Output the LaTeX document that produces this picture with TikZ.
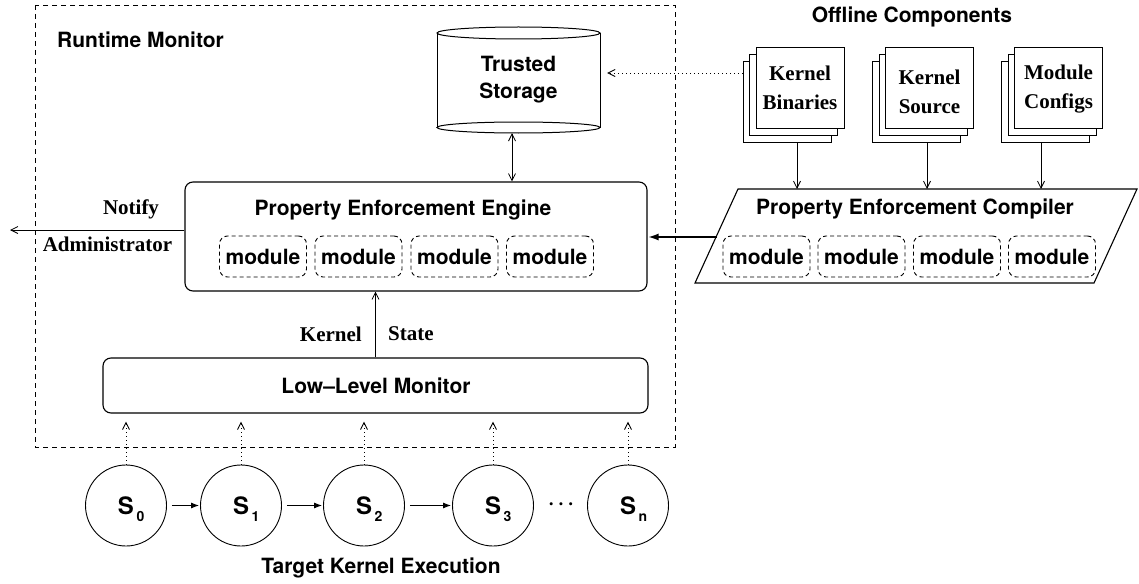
\documentclass[tikz,border=0pt]{standalone}
\usepackage{fontspec}
\setmainfont{TeX Gyre Heros}
\newfontfamily\tnr{Liberation Serif}
\usetikzlibrary{arrows.meta}

\newcommand{\stlabel}[1]{\fontsize{24}{24}\selectfont S\rlap{\hspace{2.5pt}\smash{\raisebox{-7pt}{\fontsize{14}{14}\selectfont #1}}}}

\begin{document}
\begin{tikzpicture}[x=1pt,y=-1pt,
  every node/.style={inner sep=0pt, font=\fontsize{21}{27}\selectfont\bfseries},
  serif/.style={font=\fontsize{21}{29}\selectfont\tnr\bfseries, align=center},
  box/.style={draw, line width=1.1pt, rounded corners=8pt},
  modbox/.style={draw, line width=0.9pt, dash pattern=on 4pt off 3pt,
    rounded corners=8pt, minimum width=87pt, minimum height=41pt},
  sheet/.style={draw, fill=white, line width=0.9pt, minimum width=88pt, minimum height=81pt},
  state/.style={draw, circle, line width=0.9pt, minimum size=81pt},
  barb/.style={line width=0.8pt, -{Straight Barb[length=7pt,width=7pt]}},
  dots/.style={line width=0.9pt, dash pattern=on 1pt off 3pt}]
\useasboundingbox (0,0) rectangle (1139,583);

% runtime monitor frame
\draw[line width=0.9pt, dash pattern=on 5pt off 4pt] (35,5) rectangle (675,447);
\node[anchor=west] (rmt) at (57,40) {Runtime Monitor};

% trusted storage cylinder
\node[minimum width=163pt, minimum height=106pt, align=center] (ts) at (518.5,80) {Trusted\\Storage};
\draw[line width=1pt] (437,33) -- (437,127.5) (600,33) -- (600,127.5);
\draw[line width=1pt] (518.5,33) ellipse [x radius=81.5, y radius=6];
\draw[line width=1pt] (518.5,127.5) ellipse [x radius=81.5, y radius=5.5];

% property enforcement engine
\node[box, minimum width=462pt, minimum height=109pt] (pee) at (416,236.5) {};
\node (peet) at (403,210) {Property Enforcement Engine};
\node[modbox] (em1) at (263,256.5) {module};
\node[modbox] (em2) at (358.5,256.5) {module};
\node[modbox] (em3) at (454.5,256.5) {module};
\node[modbox] (em4) at (550,256.5) {module};

\draw[line width=0.8pt, {Straight Barb[length=7pt,width=7pt]}-{Straight Barb[length=7pt,width=7pt]}]
  ([xshift=-6.5pt]ts.south) -- ([xshift=-6.5pt]ts.south |- pee.north);

% notification output
\coordinate (admin) at (10,230);
\draw[barb] (pee.west |- admin) -- (admin);
\node[serif] (notify) at (131,209) {Notify};
\node[serif] (adm) at (107.5,244) {Administrator};

% low-level monitor
\node[box, minimum width=545pt, minimum height=55pt] (llm) at (375.5,385.5) {};
\node (llmt) at (376,386) {Low--Level Monitor};
\draw[barb] (llm.north) -- (llm.north |- pee.south);
\node[serif, anchor=east] (ksk) at (362,334) {Kernel};
\node[serif, anchor=west] (kss) at (388,334) {State};

% offline components
\node (offt) at (912,17) {Offline Components};
\node[sheet] (kb3) at (787,101.5) {};
\node[sheet] (kb2) at (793.5,94.5) {};
\node[sheet] (kb1) at (800,87.5) {};
\node[serif] (kbt) at (800,87.5) {Kernel\\Binaries};
\node[sheet] (ks3) at (916.5,101.5) {};
\node[sheet] (ks2) at (923,94.5) {};
\node[sheet] (ks1) at (929.5,87.5) {};
\node[serif] (kst) at (929.5,92) {Kernel\\Source};
\node[sheet] (mc3) at (1045.5,101.5) {};
\node[sheet] (mc2) at (1052,94.5) {};
\node[sheet] (mc1) at (1058.5,87.5) {};
\node[serif] (mct) at (1058.5,89) {Module\\Configs};

\draw[barb, dots, shorten >=7pt] ([yshift=28.5pt]kb3.west) -- ([yshift=28.5pt]kb3.west -| ts.east);

% property enforcement compiler
\coordinate (pecBL) at (695,283);
\coordinate (pecBR) at (1094,283);
\coordinate (pecTR) at (1137,189);
\coordinate (pecTL) at (738,189);
\draw[line width=1.1pt] (pecBL) -- (pecBR) -- (pecTR) -- (pecTL) -- cycle;
\node (pect) at (915,209) {Property Enforcement Compiler};
\node[modbox] (cm1) at (766.5,256.5) {module};
\node[modbox] (cm2) at (861.5,256.5) {module};
\node[modbox] (cm3) at (957,256.5) {module};
\node[modbox] (cm4) at (1052,256.5) {module};

\coordinate (pin1) at (797,189);
\coordinate (pin2) at (927,189);
\coordinate (pin3) at (1041,189);
\draw[barb] (kb3.south -| pin1) -- (pin1);
\draw[barb] (ks3.south -| pin2) -- (pin2);
\draw[barb] (mc3.south -| pin3) -- (pin3);

\coordinate (pecW) at (716.5,237);
\draw[line width=2.4pt, -{Latex[length=11pt,width=7pt]}] (pecW) -- (pee.east |- pecW);

% target kernel execution
\node[state] (s0) at (126,505.5) {\stlabel{0}};
\node[state] (s1) at (241,505.5) {\stlabel{1}};
\node[state] (s2) at (364,505.5) {\stlabel{2}};
\node[state] (s3) at (493,505.5) {\stlabel{3}};
\node[state] (sn) at (628,505.5) {\stlabel{n}};
\node (ell) at (561,506) {·\hspace{4pt}·\hspace{4pt}·};
\foreach \a/\b in {s0/s1, s1/s2, s2/s3}
  \draw[line width=0.9pt, -{Latex[length=8pt,width=6pt]}, shorten <=5pt, shorten >=1pt] (\a) -- (\b);
\foreach \s in {s0,s1,s2,s3,sn}
  \draw[barb, dots] (\s.north) -- ([yshift=-8pt]\s.north |- llm.south);
\node (tke) at (381,568) {Target Kernel Execution};
\end{tikzpicture}
\end{document}
